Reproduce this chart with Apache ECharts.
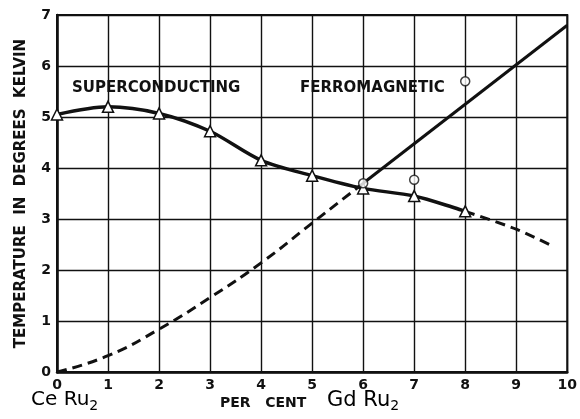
<!DOCTYPE html>
<html>
<head>
<meta charset="utf-8">
<script src="https://cdn.jsdelivr.net/npm/echarts@6/dist/echarts.min.js"></script>
<style>
  html, body { margin: 0; padding: 0; background: #fff; }
  #chart { width: 580px; height: 419px; }
</style>
</head>
<body>
<div id="chart"></div>
<script>
// measured superconducting transition (triangles)
var superPoints = [[0, 5.05], [1, 5.2], [2, 5.07], [3, 4.72], [4, 4.15], [5, 3.85], [6, 3.6], [7, 3.45], [8, 3.15]];
var superExtrapolated = [[8, 3.15], [9, 2.8], [9.65, 2.5]];
// ferromagnetic curve
var ferroDashed = [[0, 0], [1, 0.32], [2, 0.84], [3, 1.46], [4, 2.14], [5, 2.92], [6, 3.7]];
var ferroSolid = [[6, 3.7], [10, 6.8]];
var ferroPoints = [[6, 3.7], [7, 3.77], [8, 5.7]];

var xTicks = [0, 1, 2, 3, 4, 5, 6, 7, 8, 9, 10];
var yTicks = [0, 1, 2, 3, 4, 5, 6, 7];

var ink = '#111';
var font = 'DejaVu Sans';

var chart = echarts.init(document.getElementById('chart'));

var option = {
  backgroundColor: '#fff',
  animation: false,
  grid: {
    left: 57, right: 12, top: 15, bottom: 47,
    show: true, borderColor: ink, borderWidth: 2
  },
  xAxis: {
    type: 'value',
    min: xTicks[0], max: xTicks[xTicks.length - 1], interval: 1,
    axisLine: { show: true, lineStyle: { color: ink, width: 2.5 } },
    axisTick: { show: false },
    axisLabel: { color: ink, fontFamily: font, fontSize: 14, fontWeight: 'bold', margin: 6 },
    splitLine: { show: true, lineStyle: { color: ink, width: 1.4 } }
  },
  yAxis: {
    type: 'value',
    min: yTicks[0], max: yTicks[yTicks.length - 1], interval: 1,
    name: 'TEMPERATURE  IN  DEGREES  KELVIN',
    nameLocation: 'middle',
    nameRotate: 90,
    nameGap: 28,
    nameTextStyle: { color: ink, fontFamily: font, fontSize: 15, fontWeight: 'bold' },
    axisLine: { show: true, lineStyle: { color: ink, width: 2.5 } },
    axisTick: { show: false },
    axisLabel: { color: ink, fontFamily: font, fontSize: 14, fontWeight: 'bold', margin: 6 },
    splitLine: { show: true, lineStyle: { color: ink, width: 1.4 } }
  },
  graphic: [
    { type: 'text', left: 72, top: 81,
      style: { text: 'SUPERCONDUCTING', font: 'bold 15px "DejaVu Sans"', fill: ink } },
    { type: 'text', left: 300, top: 81,
      style: { text: 'FERROMAGNETIC', font: 'bold 15px "DejaVu Sans"', fill: ink } },
    { type: 'text', left: 31, top: 390,
      style: {
        text: '{a|Ce Ru}{s|2}',
        rich: {
          a: { fontFamily: font, fontSize: 20, color: ink },
          s: { fontFamily: font, fontSize: 14, color: ink, padding: [12, 0, 0, 0] }
        }
      } },
    { type: 'text', left: 220, top: 396,
      style: { text: 'PER   CENT', font: 'bold 14px "DejaVu Sans"', fill: ink } },
    { type: 'text', left: 327, top: 390,
      style: {
        text: '{a|Gd Ru}{s|2}',
        rich: {
          a: { fontFamily: font, fontSize: 21, color: ink },
          s: { fontFamily: font, fontSize: 14, color: ink, padding: [12, 0, 0, 0] }
        }
      } }
  ],
  series: [
    {
      name: 'ferroDashed', type: 'line', smooth: true, clip: false,
      data: ferroDashed, showSymbol: false,
      lineStyle: { color: ink, width: 3, type: [10, 6] }
    },
    {
      name: 'ferroSolid', type: 'line', clip: false,
      data: ferroSolid, showSymbol: false,
      lineStyle: { color: ink, width: 3 }
    },
    {
      name: 'superExtrapolated', type: 'line', smooth: 0.3, clip: false,
      data: superExtrapolated, showSymbol: false,
      lineStyle: { color: ink, width: 3, type: [10, 6] }
    },
    {
      name: 'superconducting', type: 'line', smooth: 0.3, clip: false,
      data: superPoints,
      symbol: 'triangle', symbolSize: 11, showSymbol: true,
      lineStyle: { color: ink, width: 3.5 },
      itemStyle: { color: '#fff', borderColor: ink, borderWidth: 1.5 },
      z: 3
    },
    {
      name: 'ferromagnetic', type: 'scatter', clip: false,
      data: ferroPoints,
      symbol: 'circle', symbolSize: 9,
      itemStyle: { color: '#fff', borderColor: ink, borderWidth: 1.5 },
      z: 4
    }
  ]
};

chart.setOption(option);
</script>
</body>
</html>
